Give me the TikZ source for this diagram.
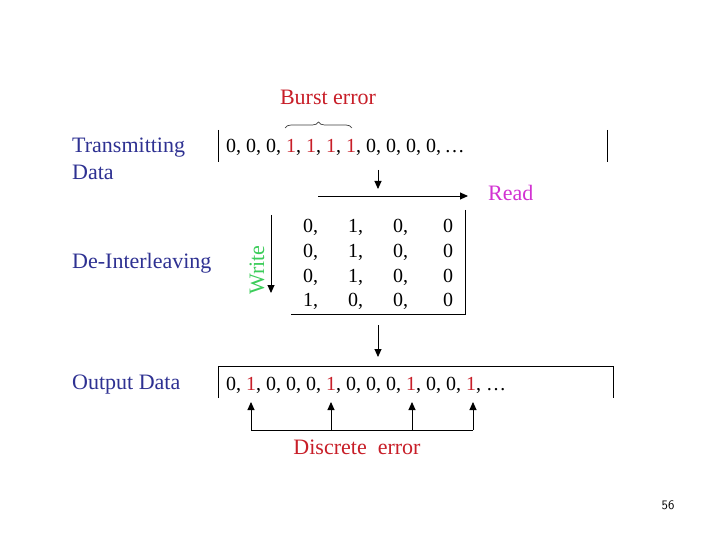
\documentclass[tikz,border=0pt]{standalone}
\usepackage{fontspec}
\setmainfont{Liberation Serif}
\usetikzlibrary{arrows.meta,decorations.pathreplacing}
\definecolor{lblue}{RGB}{46,49,146}
\definecolor{ered}{RGB}{200,30,40}
\definecolor{rmag}{RGB}{210,50,210}
\definecolor{wgreen}{RGB}{60,205,90}
\begin{document}
\begin{tikzpicture}[x=1pt,y=-1pt,
  lbl/.style={font=\fontsize{22}{26}\selectfont, text=lblue, inner sep=0pt, anchor=base west},
  dat/.style={font=\fontsize{20}{24}\selectfont, inner sep=0pt, anchor=base west},
  ann/.style={font=\fontsize{22}{26}\selectfont, inner sep=0pt, anchor=base},
  wire/.style={draw=black, line width=0.9pt},
  arr/.style={wire, -{Triangle[length=8pt,width=7pt]}}]
\useasboundingbox[fill=white] (0,0) rectangle (720,540);

% left labels
\node[lbl] (ltx) at (72,153) {Transmitting};
\node[lbl] (ltx2) at (72,180) {Data};
\node[lbl] (ldi) at (72,268) {De-Interleaving};
\node[lbl] (lout) at (72,389) {Output Data};

% transmitted data
\coordinate (t1) at (218,130); \coordinate (t2) at (218,162);
\coordinate (t3) at (607,130); \coordinate (t4) at (607,162);
\draw[wire] (t1) -- (t2);
\draw[wire] (t3) -- (t4);
\node[dat] (tdata) at (226,153) {0, 0, 0, \textcolor{ered}{1}, \textcolor{ered}{1}, \textcolor{ered}{1}, \textcolor{ered}{1}, 0, 0, 0, 0,\,\dots};
\node[ann, text=ered] (burst) at (328,105) {Burst error};
\coordinate (b1) at (285,128); \coordinate (b2) at (352,128);
\draw[line width=0.7pt, black!75, decorate, decoration={brace, amplitude=6pt}] (b1) -- (b2);

% arrows to de-interleaver
\coordinate (a1s) at (378,170); \coordinate (a1e) at (378,189);
\draw[arr] (a1s) -- (a1e);
\coordinate (rs) at (318,196); \coordinate (re) at (468,196);
\draw[arr] (rs) -- (re);
\node[ann, text=rmag, anchor=base west] (read) at (488,201) {Read};

% write arrow
\coordinate (ws) at (271,215); \coordinate (we) at (271,293);
\draw[arr] (ws) -- (we);
\node[font=\fontsize{22}{26}\selectfont, text=wgreen, inner sep=0pt, rotate=90] (write) at (257,270) {Write};

% matrix
\coordinate (m1) at (465,210); \coordinate (m2) at (465,314); \coordinate (m3) at (291,314);
\draw[wire] (m1) -- (m2) -- (m3);
\foreach \r/\y/\a/\b/\c in {1/233/0/1/0, 2/257/0/1/0, 3/282/0/1/0, 4/306/1/0/0}{
  \node[dat] (m\r a) at (303,\y) {\a,};
  \node[dat] (m\r b) at (348,\y) {\b,};
  \node[dat] (m\r c) at (393,\y) {\c,};
  \node[dat] (m\r d) at (443,\y) {0};
}

% arrow to output
\coordinate (a3s) at (378,325); \coordinate (a3e) at (378,357);
\draw[arr] (a3s) -- (a3e);

% output data
\coordinate (o1) at (218,398); \coordinate (o2) at (218,366);
\coordinate (o3) at (613,366); \coordinate (o4) at (613,398);
\draw[wire] (o1) -- (o2) -- (o3) -- (o4);
\node[dat] (odata) at (226,390) {0, \textcolor{ered}{1}, 0, 0, 0, \textcolor{ered}{1}, 0, 0, 0, \textcolor{ered}{1}, 0, 0, \textcolor{ered}{1}, \dots};

% discrete error arrows
\coordinate (d1) at (251,430); \coordinate (d2) at (331,430);
\coordinate (d3) at (412,430); \coordinate (d4) at (473,430);
\coordinate (u1) at (251,402); \coordinate (u2) at (331,402);
\coordinate (u3) at (412,402); \coordinate (u4) at (473,402);
\draw[wire] (d1) -- (d4);
\foreach \i in {1,2,3,4}{ \draw[arr] (d\i) -- (u\i); }
\node[ann, text=ered] (disc) at (357,454) {Discrete\ \ error};

% page number
\node[font=\fontsize{13}{15}\selectfont\sffamily, inner sep=0pt] (pg) at (668,505) {56};
\end{tikzpicture}
\end{document}
